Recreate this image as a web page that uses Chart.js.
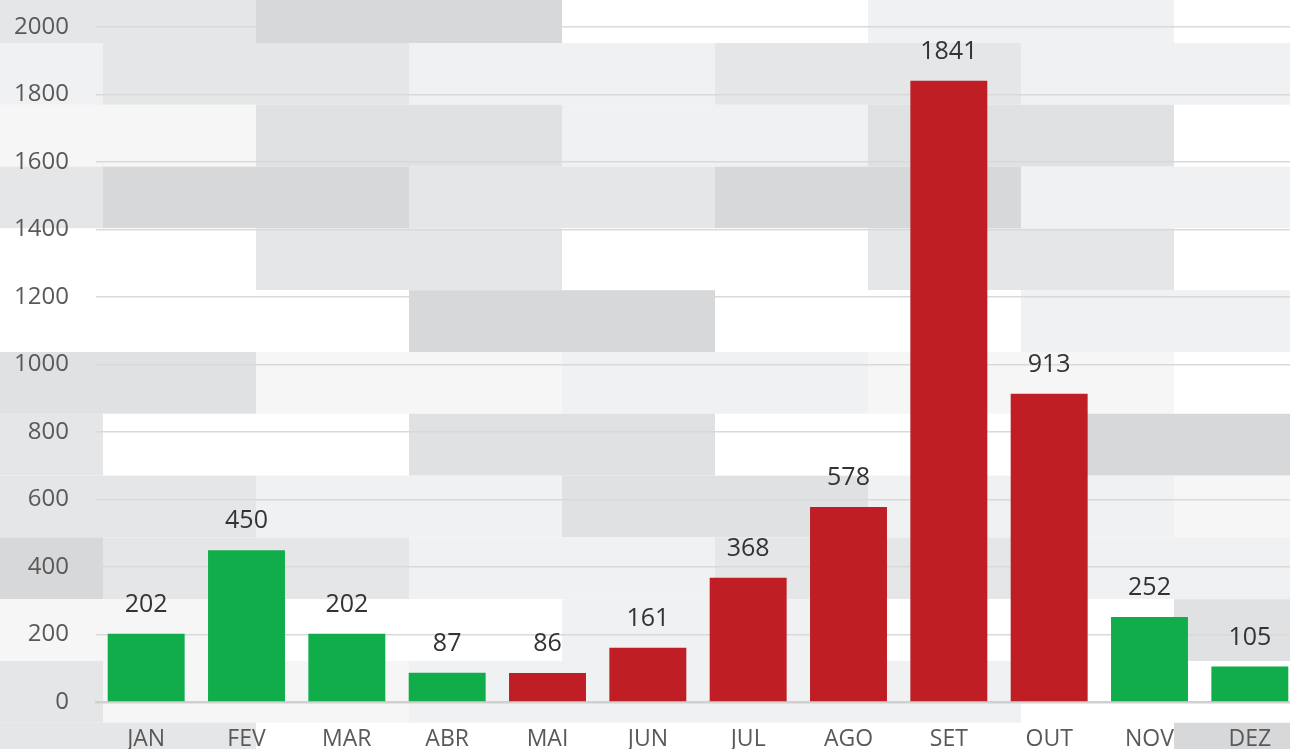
<!DOCTYPE html>
<html>
<head>
<meta charset="utf-8">
<title>Ocorrências por mês</title>
<script src="https://cdn.jsdelivr.net/npm/chart.js@4/dist/chart.umd.min.js"></script>
<style>
  html, body { margin: 0; padding: 0; background: #fff; overflow: hidden; }
  #wrap { position: absolute; left: 0; top: 0; width: 1290px; height: 749px; overflow: hidden; }
</style>
</head>
<body>
<div id="wrap"><canvas id="chart" width="1300" height="749"></canvas></div>
<script>
// months and values
const months = ["JAN", "FEV", "MAR", "ABR", "MAI", "JUN", "JUL", "AGO", "SET", "OUT", "NOV", "DEZ"];
const counts = [202, 450, 202, 87, 86, 161, 368, 578, 1841, 913, 252, 105];
const yTicks = [0, 200, 400, 600, 800, 1000, 1200, 1400, 1600, 1800, 2000];

const GREEN = "#12ad4b";
const RED = "#be1e24";
const barColors = [GREEN, GREEN, GREEN, GREEN, RED, RED, RED, RED, RED, RED, GREEN, GREEN];

// grey "brick" backdrop, one string per row, one letter per brick
const shades = { A: "#ffffff", B: "#f6f6f6", C: "#f0f1f3", D: "#e5e6e8", E: "#e0e1e3", F: "#d7d8da" };
const brickRows = [
  "DFACA", "CDCDC", "BECEA", "DFDFC", "ADADA", "AAFAC", "EBCBA",
  "DAEAF", "DCECB", "FDCDC", "BACAE", "DBCCA", "DAAAF"
];

const backdrop = {
  id: "backdrop",
  beforeDraw(chart) {
    const ctx = chart.ctx;
    const rowH = 61.8, brickW = 306, y0 = 43 - rowH;
    ctx.save();
    ctx.fillStyle = "#fff";
    ctx.fillRect(0, 0, chart.width, chart.height);
    brickRows.forEach((row, r) => {
      const x0 = r % 2 === 0 ? -50 : -203;
      for (let i = 0; i < row.length; i++) {
        ctx.fillStyle = shades[row[i]];
        ctx.fillRect(x0 + i * brickW, y0 + r * rowH, brickW, rowH);
      }
    });
    ctx.restore();
  }
};

const valueLabels = {
  id: "valueLabels",
  afterDatasetsDraw(chart) {
    const ctx = chart.ctx;
    const meta = chart.getDatasetMeta(0);
    ctx.save();
    ctx.font = "25px 'Open Sans'";
    ctx.fillStyle = "#333333";
    ctx.textAlign = "center";
    ctx.textBaseline = "middle";
    meta.data.forEach((bar, i) => {
      ctx.fillText(String(counts[i]), bar.x, bar.y - 29);
    });
    ctx.restore();
  }
};

new Chart(document.getElementById("chart"), {
  type: "bar",
  data: {
    labels: months,
    datasets: [{
      data: counts,
      backgroundColor: barColors,
      borderWidth: 0,
      categoryPercentage: 1,
      barPercentage: 0.767
    }]
  },
  options: {
    responsive: false,
    animation: false,
    devicePixelRatio: 1,
    layout: { padding: { top: 27, left: 0, right: 0, bottom: 0 } },
    plugins: { legend: { display: false }, tooltip: { enabled: false } },
    scales: {
      x: {
        grid: { display: false, drawTicks: false },
        border: { display: true, color: "#d0d0d0", width: 2.5 },
        ticks: { color: "#595959", font: { family: "'Open Sans'", size: 23 }, padding: 24, maxRotation: 0 },
        afterFit(scale) { scale.height = 47; }
      },
      y: {
        min: 0,
        max: 2000,
        afterBuildTicks(scale) { scale.ticks = yTicks.map(v => ({ value: v })); },
        grid: { color: "#d9d9d9", lineWidth: 1.5, drawTicks: false },
        border: { display: false },
        ticks: {
          color: "#595959",
          font: { family: "'Open Sans'", size: 24 },
          padding: 27,
          callback: v => String(v)
        },
        afterFit(scale) {
          scale.width = 96;
          // tick padding would otherwise push the plot area down
          scale.paddingTop = 0;
          scale.paddingBottom = 0;
        }
      }
    }
  },
  plugins: [backdrop, valueLabels]
});
</script>
</body>
</html>
